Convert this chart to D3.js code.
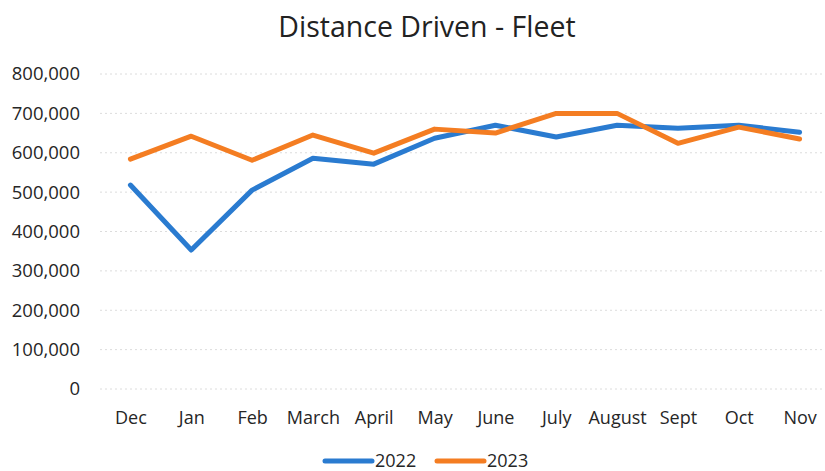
<!DOCTYPE html>
<html>
<head>
<meta charset="utf-8">
<script src="https://cdn.jsdelivr.net/npm/d3@7"></script>
<style>
  body { margin: 0; background: #fff; }
  svg { display: block; font-family: 'Open Sans', sans-serif; }
</style>
</head>
<body>
<div id="chart"></div>
<script>
// Chart data.
const months = ['Dec', 'Jan', 'Feb', 'March', 'April', 'May', 'June', 'July', 'August', 'Sept', 'Oct', 'Nov'];
const values2022 = [518000, 353000, 505000, 586000, 571000, 637000, 670000, 640000, 670000, 662000, 670000, 652000];
const values2023 = [584000, 642000, 581000, 645000, 599000, 660000, 650000, 700000, 700000, 624000, 665000, 635000];
const yTicks = [0, 100000, 200000, 300000, 400000, 500000, 600000, 700000, 800000];
const seriesNames = ['2022', '2023'];
const seriesColors = ['#2a7bd0', '#f47d22'];

const width = 825, height = 471;
const margin = { top: 74, right: -5, bottom: 82, left: 100 };

const svg = d3.select('#chart')
    .append('svg')
    .attr('width', width)
    .attr('height', height);

const x = d3.scalePoint()
    .domain(months)
    .range([margin.left, width - margin.right])
    .padding(0.5);

const y = d3.scaleLinear()
    .domain([0, 800000])
    .range([height - margin.bottom, margin.top]);

// Title.
svg.append('text')
    .attr('x', 427)
    .attr('y', 37)
    .attr('text-anchor', 'middle')
    .attr('font-size', 28.5)
    .attr('fill', '#222')
    .text('Distance Driven - Fleet');

// Faint gridlines.
svg.append('g')
    .selectAll('line')
    .data(yTicks)
    .join('line')
    .attr('x1', margin.left)
    .attr('x2', width)
    .attr('y1', (d) => y(d))
    .attr('y2', (d) => y(d))
    .attr('stroke', '#dcdcdc')
    .attr('stroke-width', 1)
    .attr('stroke-dasharray', '2,3');

// Y axis labels.
const yAxis = d3.axisLeft(y)
    .tickValues(yTicks)
    .tickFormat(d3.format(','))
    .tickSize(0)
    .tickPadding(0);

svg.append('g')
    .attr('transform', `translate(${margin.left - 20},0)`)
    .call(yAxis)
    .call((g) => g.select('.domain').remove())
    .call((g) => g.selectAll('text')
        .attr('font-size', 18.5)
        .attr('font-family', "'Open Sans', sans-serif")
        .attr('fill', '#262626'));

// X axis labels.
const xAxis = d3.axisBottom(x).tickSize(0).tickPadding(0);

svg.append('g')
    .attr('transform', `translate(0,${height - margin.bottom + 22})`)
    .call(xAxis)
    .call((g) => g.select('.domain').remove())
    .call((g) => g.selectAll('text')
        .attr('font-size', 18)
        .attr('font-family', "'Open Sans', sans-serif")
        .attr('fill', '#262626'));

// Lines.
const line = d3.line()
    .x((d, i) => x(months[i]))
    .y((d) => y(d));

[values2022, values2023].forEach((values, i) => {
    svg.append('path')
        .datum(values)
        .attr('fill', 'none')
        .attr('stroke', seriesColors[i])
        .attr('stroke-width', 5)
        .attr('stroke-linejoin', 'round')
        .attr('stroke-linecap', 'round')
        .attr('d', line);
});

// Legend.
const legend = svg.append('g')
    .attr('transform', 'translate(325,461)');

const legendItems = legend.selectAll('g')
    .data(seriesNames)
    .join('g')
    .attr('transform', (d, i) => `translate(${i * 112},0)`);

legendItems.append('line')
    .attr('x1', 0)
    .attr('x2', 47)
    .attr('stroke', (d, i) => seriesColors[i])
    .attr('stroke-width', 5)
    .attr('stroke-linecap', 'round');

legendItems.append('text')
    .attr('x', 50)
    .attr('y', 6)
    .attr('font-size', 18)
    .attr('fill', '#262626')
    .text((d) => d);
</script>
</body>
</html>
